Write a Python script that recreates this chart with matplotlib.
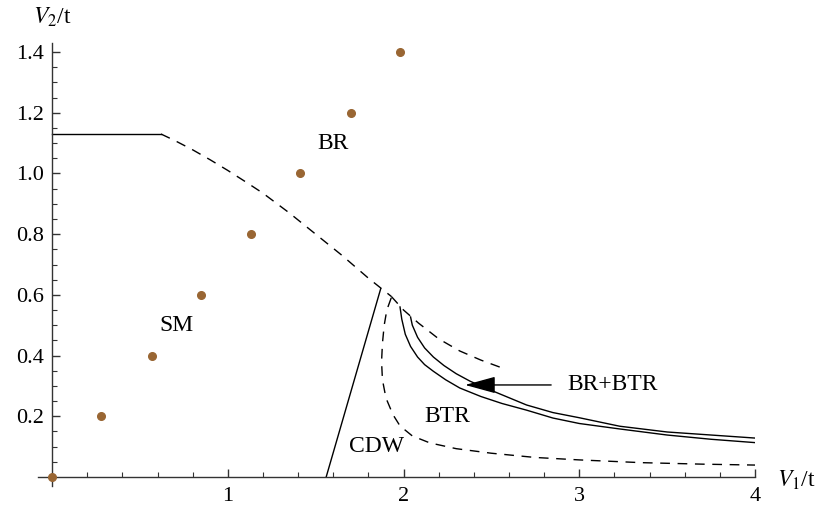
import numpy as np
import matplotlib
matplotlib.use("Agg")
import matplotlib.pyplot as plt
from matplotlib.ticker import FixedLocator, FixedFormatter

plt.rcParams['font.family'] = ['Liberation Serif', 'DejaVu Serif']
plt.rcParams['mathtext.fontset'] = 'stix'

# brown points (SM / BR guide)
dot_x = [0.0, 0.28, 0.57, 0.85, 1.13, 1.41, 1.70, 1.98]
dot_y = [0.0, 0.2, 0.4, 0.6, 0.8, 1.0, 1.2, 1.4]

# solid flat piece of the SM/BR boundary
flat_x = [0.0, 0.62]
flat_y = [1.13, 1.13]

# dashed SM/BR boundary
br_x = [0.62, 0.7, 0.8, 0.9, 1.0, 1.1, 1.2, 1.35, 1.5, 1.65, 1.8, 1.93]
br_y = [1.13, 1.108, 1.078, 1.045, 1.01, 0.973, 0.935, 0.87, 0.80, 0.73,
        0.655, 0.595]

# dashed continuation to the right
br2_x = [1.93, 2.0, 2.085, 2.2, 2.32, 2.44, 2.58]
br2_y = [0.595, 0.55, 0.507, 0.455, 0.415, 0.385, 0.355]

# solid SM/CDW line
cdw_x = [1.56, 1.87]
cdw_y = [0.0, 0.62]

# dashed CDW/BTR boundary
btr_x = [1.93, 1.905, 1.89, 1.88, 1.875, 1.88, 1.90, 1.94, 1.98, 2.05, 2.15,
         2.3, 2.5, 2.75, 3.0, 3.35, 3.7, 4.0]
btr_y = [0.59, 0.55, 0.50, 0.44, 0.38, 0.32, 0.26, 0.205, 0.168, 0.135, 0.112,
         0.093, 0.078, 0.064, 0.056, 0.047, 0.042, 0.039]

# BR+BTR band, lower and upper solid curves
low_x = [1.98, 1.99, 2.01, 2.04, 2.08, 2.12, 2.17, 2.24, 2.32, 2.44, 2.56,
         2.70, 2.85, 3.0, 3.23, 3.5, 3.75, 4.0]
low_y = [0.56, 0.52, 0.47, 0.43, 0.395, 0.37, 0.348, 0.32, 0.293, 0.265,
         0.242, 0.22, 0.194, 0.176, 0.158, 0.138, 0.124, 0.113]
up_x = [2.04, 2.05, 2.08, 2.12, 2.17, 2.23, 2.30, 2.38, 2.5, 2.7, 2.85, 3.0,
        3.23, 3.5, 3.75, 4.0]
up_y = [0.527, 0.5, 0.46, 0.425, 0.395, 0.367, 0.34, 0.315, 0.285, 0.237,
        0.212, 0.195, 0.167, 0.148, 0.138, 0.128]

xticks = [1, 2, 3, 4]
yticks = [0.2, 0.4, 0.6, 0.8, 1.0, 1.2, 1.4]

fig = plt.figure(figsize=(8.18, 5.14), dpi=100)
W, H = 818, 514
ax = fig.add_axes([38 / W, 1 - 486 / H, (755 - 38) / W, (486 - 43) / H])
ax.set_xlim(-0.08, 4.0)
ax.set_ylim(-0.03, 1.43)

lw = 1.0
dash = (7, 5.5)
ax.plot(flat_x, flat_y, color='black', lw=lw)
ax.plot(br_x, br_y, color='black', lw=lw, dashes=dash)
ax.plot(br2_x, br2_y, color='black', lw=lw, dashes=dash)
ax.plot(cdw_x, cdw_y, color='black', lw=lw)
ax.plot(btr_x, btr_y, color='black', lw=lw, dashes=dash)
ax.plot(low_x, low_y, color='black', lw=lw)
ax.plot(up_x, up_y, color='black', lw=lw)
ax.plot(dot_x, dot_y, 'o', color='#996633', ms=5.5, clip_on=False, zorder=5)

fs = 17
ax.text(1.60, 1.10, "BR", fontsize=fs, ha='center', va='center')
ax.text(0.71, 0.50, "SM", fontsize=fs, ha='center', va='center')
ax.text(2.25, 0.198, "BTR", fontsize=fs, ha='center', va='center')
ax.text(1.845, 0.100, "CDW", fontsize=fs, ha='center', va='center')
ax.text(2.93, 0.303, "BR+BTR", fontsize=fs, ha='left', va='center')
ax.annotate("", xy=(2.35, 0.303), xytext=(2.84, 0.303),
            arrowprops=dict(arrowstyle='-|>,head_length=0.95,head_width=0.26',
                            color='black', lw=1.0, mutation_scale=20,
                            shrinkA=0, shrinkB=0))

# Mathematica-like axes crossing at the origin
for s in ['top', 'right']:
    ax.spines[s].set_visible(False)
ax.spines['left'].set_position(('data', 0))
ax.spines['bottom'].set_position(('data', 0))
for s in ['left', 'bottom']:
    ax.spines[s].set_color('#333333')
    ax.spines[s].set_linewidth(1.0)

ax.xaxis.set_major_locator(FixedLocator(xticks))
ax.xaxis.set_major_formatter(FixedFormatter([str(t) for t in xticks]))
ax.yaxis.set_major_locator(FixedLocator(yticks))
ax.yaxis.set_major_formatter(FixedFormatter(["%.1f" % t for t in yticks]))
ax.xaxis.set_minor_locator(FixedLocator(np.arange(0.2, 4.01, 0.2)))
ax.yaxis.set_minor_locator(FixedLocator(np.arange(0.05, 1.41, 0.05)))
ax.tick_params(which='both', direction='in', color='#333333', labelsize=16)
ax.tick_params(which='major', length=6, width=1.0)
ax.tick_params(which='minor', length=3.8, width=0.8)
ax.tick_params(axis='y', pad=6)
ax.tick_params(axis='x', pad=7)

fig.text(52 / W, 1 - 17 / H, "$V_2$/t", fontsize=fs, ha='center', va='center')
fig.text(777 / W, 1 - 480 / H, "$V_1$/t", fontsize=fs, ha='left', va='center')

fig.savefig("out.png", dpi=100)
